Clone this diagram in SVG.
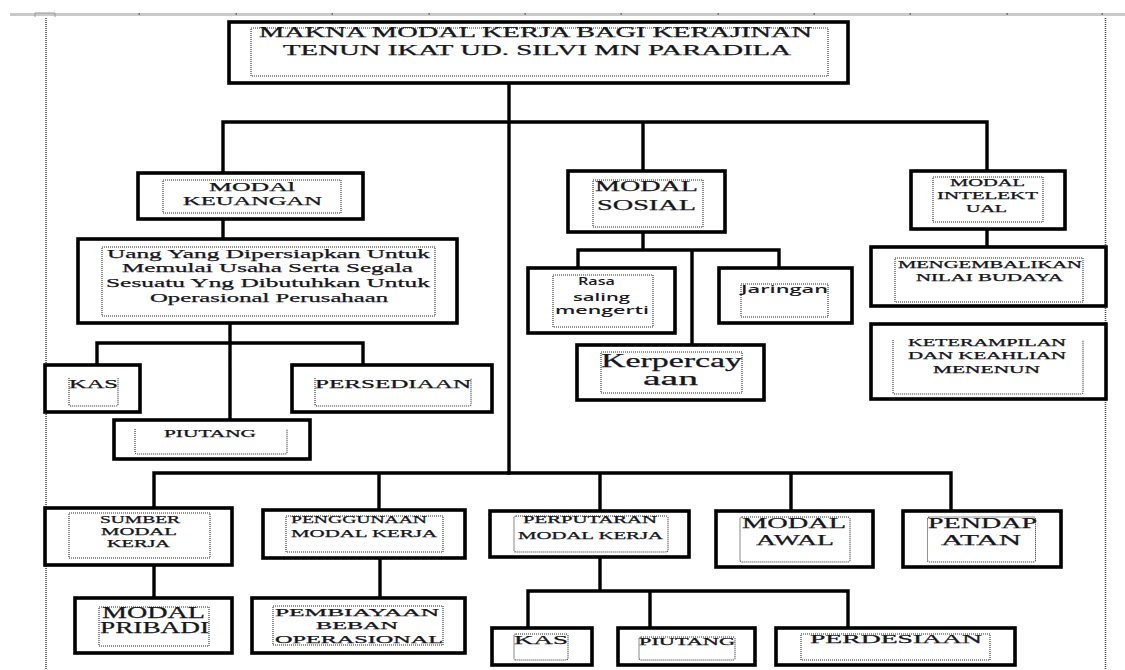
<svg xmlns="http://www.w3.org/2000/svg" width="1125" height="670" viewBox="0 0 1125 670">
  <style>
    .box { fill: #fff; stroke: #000; stroke-width: 3.6; }
    .dot { fill: none; stroke: #2a2a2a; stroke-width: 1.1; stroke-dasharray: 1 1; }
    .ln { fill: none; stroke: #000; stroke-width: 3.4; stroke-linecap: square; }
    .t { font-family: "Liberation Serif", "Times New Roman", serif; fill: #161620; stroke: #161620; stroke-width: 0.25; }
    .s { font-family: "Open Sans", "Liberation Sans", Arial, sans-serif; font-weight: 600; fill: #1a1a24; }
    .margin { fill: none; stroke: #4a4a4a; stroke-width: 1.6; stroke-dasharray: 1 1; }
  </style>

  <rect width="1125" height="670" fill="#fff"/>

  <!-- page ruler and margins -->
  <g id="page">
    <line x1="10" y1="14.5" x2="1125" y2="14.5" stroke="#c9c9c9" stroke-width="3"/>
    <g fill="#777">
      <rect x="138.5" y="13" width="1.5" height="2"/>
      <rect x="235.5" y="13" width="1.5" height="2"/>
      <rect x="331.5" y="13" width="1.5" height="2"/>
      <rect x="428.5" y="13" width="1.5" height="2"/>
      <rect x="524.5" y="13" width="1.5" height="2"/>
      <rect x="620.5" y="13" width="1.5" height="2"/>
      <rect x="717.5" y="13" width="1.5" height="2"/>
      <rect x="813.5" y="13" width="1.5" height="2"/>
      <rect x="909.5" y="13" width="1.5" height="2"/>
      <rect x="1006.5" y="13" width="1.5" height="2"/>
      <rect x="1101.5" y="13" width="1.5" height="2"/>
    </g>
    <path d="M35 17 V13 H55 V17" fill="none" stroke="#999" stroke-width="1"/>
    <line class="margin" x1="46" y1="18" x2="46" y2="670"/>
    <line class="margin" x1="1105.5" y1="18" x2="1105.5" y2="670"/>
  </g>

  <!-- connectors -->
  <g id="connectors">
    <path class="ln" d="M509 83 V473"/>
    <path class="ln" d="M223 122 H987 M223 122 V173 M643 122 V171 M987 122 V171"/>
    <path class="ln" d="M223 219 V239"/>
    <path class="ln" d="M230 323 V420 M97 343 H363 M97 343 V365 M363 343 V365"/>
    <path class="ln" d="M643 232 V250 M578 250 H779 M578 250 V268 M692 250 V345 M779 250 V268"/>
    <path class="ln" d="M987 229 V247"/>
    <path class="ln" d="M154 473 H951 M154 473 V508 M379 473 V510 M600 473 V511 M791 473 V511 M951 473 V511"/>
    <path class="ln" d="M154 565 V598"/>
    <path class="ln" d="M380 558 V598"/>
    <path class="ln" d="M600 557 V591 M528 591 H848 M528 591 V628 M650 591 V628 M848 591 V628"/>
  </g>

  <!-- title -->
  <g id="title">
    <rect class="box" x="229" y="22" width="619" height="61"/>
    <rect class="dot" x="251" y="28" width="577" height="48"/>
    <text class="t" font-size="14" x="259" y="37" textLength="553" lengthAdjust="spacingAndGlyphs">MAKNA MODAL KERJA BAGI KERAJINAN</text>
    <text class="t" font-size="14" x="283" y="55" textLength="508" lengthAdjust="spacingAndGlyphs">TENUN IKAT UD. SILVI MN PARADILA</text>
  </g>

  <!-- modal keuangan branch -->
  <g id="modal-keuangan">
    <rect class="box" x="138" y="173" width="225" height="46"/>
    <rect class="dot" x="163" y="180" width="178" height="33"/>
    <text class="t" font-size="12" x="209" y="191" textLength="86" lengthAdjust="spacingAndGlyphs">MODAl</text>
    <text class="t" font-size="12" x="183" y="205" textLength="139" lengthAdjust="spacingAndGlyphs">KEUANGAN</text>
  </g>
  <g id="definisi-keuangan">
    <rect class="box" x="78" y="239" width="379" height="84"/>
    <rect class="dot" x="102" y="247" width="333" height="69"/>
    <text class="t" font-size="13" x="107" y="258" textLength="323" lengthAdjust="spacingAndGlyphs">Uang Yang Dipersiapkan Untuk</text>
    <text class="t" font-size="13" x="122" y="272" textLength="291" lengthAdjust="spacingAndGlyphs">Memulai Usaha Serta Segala</text>
    <text class="t" font-size="13" x="106" y="287" textLength="324" lengthAdjust="spacingAndGlyphs">Sesuatu Yng Dibutuhkan Untuk</text>
    <text class="t" font-size="13" x="150" y="302" textLength="238" lengthAdjust="spacingAndGlyphs">Operasional Perusahaan</text>
  </g>
  <g id="kas-1">
    <rect class="box" x="45" y="365" width="95" height="47"/>
    <path class="dot" d="M69 378 V404 Q69 406 71 406 H116 Q118 406 118 404 V378"/>
    <text class="t" font-size="12" x="69" y="388" textLength="49" lengthAdjust="spacingAndGlyphs">KAS</text>
  </g>
  <g id="persediaan">
    <rect class="box" x="292" y="365" width="200" height="47"/>
    <path class="dot" d="M315 378 V404 Q315 406 317 406 H469 Q471 406 471 404 V378"/>
    <text class="t" font-size="12" x="315" y="388" textLength="156" lengthAdjust="spacingAndGlyphs">PERSEDIAAN</text>
  </g>
  <g id="piutang-1">
    <rect class="box" x="114" y="420" width="196" height="39"/>
    <path class="dot" d="M135 429 V452 Q135 454 137 454 H285 Q287 454 287 452 V429"/>
    <text class="t" font-size="10" x="164" y="437" textLength="92" lengthAdjust="spacingAndGlyphs">PIUTANG</text>
  </g>

  <!-- modal sosial branch -->
  <g id="modal-sosial">
    <rect class="box" x="568" y="171" width="157" height="61"/>
    <rect class="dot" x="593" y="180" width="110" height="47"/>
    <text class="t" font-size="15" x="595" y="191" textLength="103" lengthAdjust="spacingAndGlyphs">MODAL</text>
    <text class="t" font-size="15" x="597" y="210" textLength="99" lengthAdjust="spacingAndGlyphs">SOSIAL</text>
  </g>
  <g id="rasa-saling-mengerti">
    <rect class="box" x="528" y="268" width="147" height="65"/>
    <rect class="dot" x="553" y="275" width="100" height="52"/>
    <text class="s" font-size="11" x="578" y="285" textLength="37" lengthAdjust="spacingAndGlyphs">Rasa</text>
    <text class="s" font-size="11" x="573" y="301" textLength="57" lengthAdjust="spacingAndGlyphs">saling</text>
    <text class="s" font-size="11" x="555" y="314" textLength="94" lengthAdjust="spacingAndGlyphs">mengerti</text>
  </g>
  <g id="jaringan">
    <rect class="box" x="719" y="268" width="133" height="55"/>
    <rect class="dot" x="741" y="284" width="87" height="33"/>
    <text class="s" font-size="11" x="741" y="293" textLength="87" lengthAdjust="spacingAndGlyphs">Jaringan</text>
  </g>
  <g id="kepercayaan">
    <rect class="box" x="577" y="345" width="187" height="55"/>
    <rect class="dot" x="601" y="352" width="141" height="41"/>
    <text class="t" font-size="18" x="601" y="367" textLength="141" lengthAdjust="spacingAndGlyphs">Kerpercay</text>
    <text class="t" font-size="18" x="643" y="385" textLength="55" lengthAdjust="spacingAndGlyphs">aan</text>
  </g>

  <!-- modal intelektual branch -->
  <g id="modal-intelektual">
    <rect class="box" x="911" y="171" width="154" height="58"/>
    <rect class="dot" x="933" y="177" width="110" height="45"/>
    <text class="t" font-size="10" x="950" y="186" textLength="75" lengthAdjust="spacingAndGlyphs">MODAL</text>
    <text class="t" font-size="10" x="937" y="199" textLength="101" lengthAdjust="spacingAndGlyphs">INTELEKT</text>
    <text class="t" font-size="10" x="966" y="212" textLength="41" lengthAdjust="spacingAndGlyphs">UAL</text>
  </g>
  <g id="mengembalikan-nilai-budaya">
    <rect class="box" x="871" y="247" width="235" height="59"/>
    <rect class="dot" x="895" y="258" width="188" height="44"/>
    <text class="t" font-size="10" x="898" y="268" textLength="184" lengthAdjust="spacingAndGlyphs">MENGEMBALIKAN</text>
    <text class="t" font-size="10" x="916" y="281" textLength="147" lengthAdjust="spacingAndGlyphs">NILAI BUDAYA</text>
  </g>
  <g id="keterampilan-menenun">
    <rect class="box" x="871" y="324" width="235" height="75"/>
    <path class="dot" d="M893 340 V392 Q893 394 895 394 H1081 Q1083 394 1083 392 V340"/>
    <text class="t" font-size="9.5" x="908" y="346" textLength="158" lengthAdjust="spacingAndGlyphs">KETERAMPILAN</text>
    <text class="t" font-size="9.5" x="908" y="359" textLength="158" lengthAdjust="spacingAndGlyphs">DAN KEAHLIAN</text>
    <text class="t" font-size="9.5" x="933" y="373" textLength="107" lengthAdjust="spacingAndGlyphs">MENENUN</text>
  </g>

  <!-- lower row -->
  <g id="sumber-modal-kerja">
    <rect class="box" x="45" y="508" width="187" height="57"/>
    <rect class="dot" x="69" y="513" width="141" height="45"/>
    <text class="t" font-size="10" x="100" y="523" textLength="80" lengthAdjust="spacingAndGlyphs">SUMBER</text>
    <text class="t" font-size="10" x="101" y="535" textLength="76" lengthAdjust="spacingAndGlyphs">MODAL</text>
    <text class="t" font-size="10" x="107" y="547" textLength="63" lengthAdjust="spacingAndGlyphs">KERJA</text>
  </g>
  <g id="modal-pribadi">
    <rect class="box" x="75" y="598" width="157" height="55"/>
    <rect class="dot" x="99" y="607" width="110" height="39"/>
    <text class="t" font-size="16" x="102" y="618" textLength="103" lengthAdjust="spacingAndGlyphs">MODAL</text>
    <text class="t" font-size="16" x="100" y="633" textLength="109" lengthAdjust="spacingAndGlyphs">PRIBADI</text>
  </g>
  <g id="penggunaan-modal-kerja">
    <rect class="box" x="263" y="510" width="202" height="48"/>
    <rect class="dot" x="286" y="516" width="157" height="36"/>
    <text class="t" font-size="11" x="291" y="523" textLength="136" lengthAdjust="spacingAndGlyphs">PENGGUNAAN</text>
    <text class="t" font-size="11" x="291" y="537" textLength="146" lengthAdjust="spacingAndGlyphs">MODAL KERJA</text>
  </g>
  <g id="pembiayaan-beban-operasional">
    <rect class="box" x="252" y="598" width="213" height="55"/>
    <rect class="dot" x="273" y="606" width="170" height="39"/>
    <text class="t" font-size="10.5" x="275" y="616" textLength="164" lengthAdjust="spacingAndGlyphs">PEMBIAYAAN</text>
    <text class="t" font-size="10.5" x="316" y="629" textLength="82" lengthAdjust="spacingAndGlyphs">BEBAN</text>
    <text class="t" font-size="10.5" x="275" y="643" textLength="168" lengthAdjust="spacingAndGlyphs">OPERASIONAL</text>
  </g>
  <g id="perputaran-modal-kerja">
    <rect class="box" x="490" y="511" width="199" height="46"/>
    <rect class="dot" x="514" y="516" width="154" height="36" rx="2"/>
    <text class="t" font-size="10" x="523" y="523" textLength="134" lengthAdjust="spacingAndGlyphs">PERPUTARAN</text>
    <text class="t" font-size="11" x="518" y="539" textLength="145" lengthAdjust="spacingAndGlyphs">MODAL KERJA</text>
  </g>
  <g id="modal-awal">
    <rect class="box" x="716" y="511" width="157" height="56"/>
    <rect class="dot" x="740" y="517" width="110" height="45" rx="2"/>
    <text class="t" font-size="15" x="742" y="528" textLength="104" lengthAdjust="spacingAndGlyphs">MODAL</text>
    <text class="t" font-size="15" x="756" y="545" textLength="78" lengthAdjust="spacingAndGlyphs">AWAL</text>
  </g>
  <g id="pendapatan">
    <rect class="box" x="903" y="511" width="158" height="56"/>
    <rect class="dot" x="927.5" y="517" width="108" height="45" rx="2"/>
    <text class="t" font-size="15" x="928" y="528" textLength="109" lengthAdjust="spacingAndGlyphs">PENDAP</text>
    <text class="t" font-size="15" x="941" y="545" textLength="80" lengthAdjust="spacingAndGlyphs">ATAN</text>
  </g>
  <g id="kas-2">
    <rect class="box" x="492" y="628" width="100" height="37"/>
    <rect class="dot" x="514" y="634" width="54" height="26" rx="2"/>
    <text class="t" font-size="13" x="514" y="644" textLength="54" lengthAdjust="spacingAndGlyphs">KAS</text>
  </g>
  <g id="piutang-2">
    <rect class="box" x="618" y="628" width="137" height="37"/>
    <rect class="dot" x="639" y="637" width="96" height="23" rx="2"/>
    <text class="t" font-size="10" x="639" y="645" textLength="96" lengthAdjust="spacingAndGlyphs">PIUTANG</text>
  </g>
  <g id="perdesiaan">
    <rect class="box" x="776" y="628" width="239" height="37"/>
    <rect class="dot" x="801" y="634" width="189" height="26"/>
    <text class="t" font-size="12" x="810" y="643" textLength="172" lengthAdjust="spacingAndGlyphs">PERDESIAAN</text>
  </g>
</svg>
